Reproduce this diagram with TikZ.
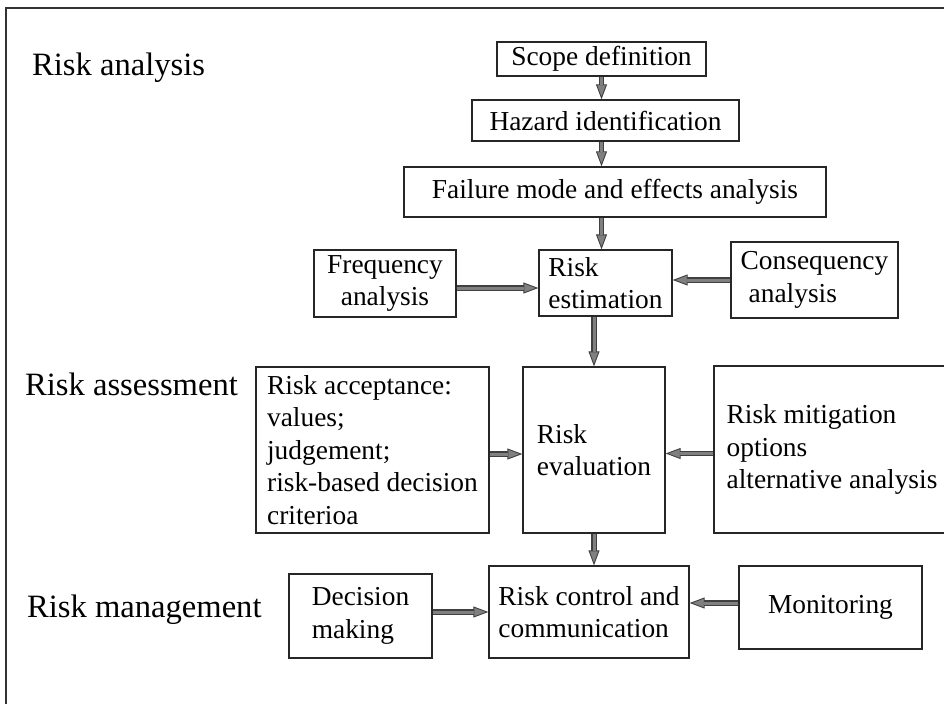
\documentclass[tikz,border=0pt]{standalone}
\usepackage{fontspec}
\setmainfont{Liberation Serif}
\usetikzlibrary{arrows.meta,calc}
\begin{document}
\begin{tikzpicture}[x=1bp,y=-1bp,
  box/.style={draw=black!85, line width=1.3bp, inner sep=0pt, text=black,
    font=\fontsize{27.5}{32.5}\selectfont},
  stage/.style={anchor=base west, inner sep=0pt, font=\fontsize{32.7}{36}\selectfont},
  flow/.style={line width=5.5bp, draw=black!75,
    -{Triangle[length=15bp,width=11bp,line width=0.9bp,fill=gray]},
    postaction={draw=gray, line width=3bp, -, shorten >=14bp}}]
\useasboundingbox (0,0) rectangle (944,704);
\clip (0,0) rectangle (944,704);

% open frame
\draw[line width=2bp, black!80] (6,710) -- (6,8) -- (950,8);

% stage labels
\node[stage] (lanalysis) at (32,76) {Risk analysis};
\node[stage] (lassess) at (25,395) {Risk assessment};
\node[stage] (lmanage) at (27,617) {Risk management};

% boxes
\node[box, minimum width=209bp, minimum height=34bp] (scope) at (601.5,59) {Scope definition};
\node[box, minimum width=267bp, minimum height=41bp] (hazard) at (605.5,120.5) {Hazard identification};
\node[box, minimum width=422bp, minimum height=50bp] (fmea) at (615,192) {Failure mode and effects analysis};
\node[box, minimum width=133bp, minimum height=66bp, align=left] (est) at (605.5,283) {Risk\\estimation};
\node[box, minimum width=142bp, minimum height=67bp, align=center] (freq) at (385,283.5) {Frequency\\analysis};
\node[box, minimum width=167bp, minimum height=76bp, align=left] (cons) at (814.5,280) {Consequency\\\hspace{8bp}analysis};
\node[box, minimum width=233bp, minimum height=166bp, align=left] (accept) at (372.5,450)
  {Risk acceptance:\\values;\\judgement;\\risk-based decision\\criterioa};
\node[box, minimum width=142bp, minimum height=166bp, align=left] (eval) at (594,450) {Risk\\evaluation};
\node[box, minimum width=236bp, minimum height=167bp, align=left] (mitig) at (832,449.5)
  {Risk mitigation\\options\\alternative analysis};
\node[box, minimum width=143bp, minimum height=84bp, align=left] (dec) at (360.5,616) {Decision\\making};
\node[box, minimum width=200bp, minimum height=92bp, align=left] (ctrl) at (589,612) {Risk control and\\communication};
\node[box, minimum width=183bp, minimum height=83bp] (mon) at (830.5,607.5) {Monitoring};

% connectors
\draw[flow] (scope.south) -- (scope.south |- hazard.north);
\draw[flow] (hazard.south -| scope.south) -- (fmea.north -| scope.south);
\draw[flow] (fmea.south -| scope.south) -- (est.north -| scope.south);
\draw[flow] (est.south -| eval.north) -- (eval.north);
\draw[flow] (eval.south) -- (eval.south |- ctrl.north);
\draw[flow] ([yshift=-4.5bp]freq.east) -- ([yshift=-4.5bp]freq.east -| est.west);
\draw[flow] (cons.west) -- (cons.west -| est.east);
\draw[flow] ([yshift=-4bp]accept.east) -- ([yshift=-4bp]accept.east -| eval.west);
\draw[flow] ([yshift=-4bp]mitig.west) -- ([yshift=-4bp]mitig.west -| eval.east);
\draw[flow] ([yshift=4bp]dec.east) -- ([yshift=4bp]dec.east -| ctrl.west);
\draw[flow] ([yshift=4.5bp]mon.west) -- ([yshift=4.5bp]mon.west -| ctrl.east);
\end{tikzpicture}
\end{document}
